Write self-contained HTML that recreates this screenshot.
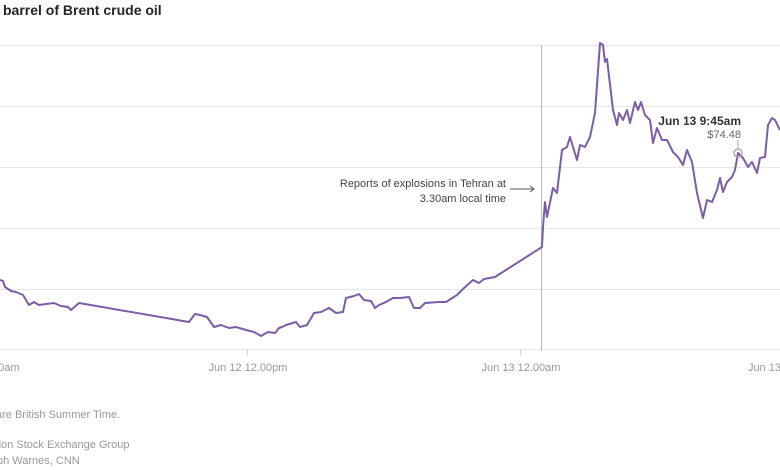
<!DOCTYPE html>
<html><head><meta charset="utf-8"><style>
html,body{margin:0;padding:0;background:#fff;width:780px;height:470px;overflow:hidden}
svg text{font-family:"Liberation Sans",sans-serif}
</style></head><body>
<svg width="780" height="470" viewBox="0 0 780 470">
<text x="3" y="15" font-size="14" font-weight="bold" fill="#262626">barrel of Brent crude oil</text>
<g stroke="#e6e6e6" stroke-width="1">
<line x1="0" y1="45.5" x2="780" y2="45.5"/>
<line x1="0" y1="106.5" x2="780" y2="106.5"/>
<line x1="0" y1="167.5" x2="780" y2="167.5"/>
<line x1="0" y1="228.5" x2="780" y2="228.5"/>
<line x1="0" y1="289.5" x2="780" y2="289.5"/>
<line x1="0" y1="349.5" x2="780" y2="349.5"/>
</g>
<g stroke="#ccc"><line x1="247.5" y1="350" x2="247.5" y2="355"/><line x1="520.5" y1="350" x2="520.5" y2="355"/></g>
<line x1="541.5" y1="45" x2="541.5" y2="351" stroke="#bbb"/>
<g font-size="11" fill="#999">
<text x="-8" y="371">00am</text>
<text x="248" y="371" text-anchor="middle">Jun 12 12.00pm</text>
<text x="521" y="371" text-anchor="middle">Jun 13 12.00am</text>
<text x="748" y="371">Jun 13</text>
<text x="-4" y="418">are British Summer Time.</text>
<text x="-5" y="448">don Stock Exchange Group</text>
<text x="-3" y="464">ph Warnes, CNN</text>
</g>
<g font-size="11" fill="#444" text-anchor="end">
<text x="506" y="187">Reports of explosions in Tehran at</text>
<text x="506" y="202">3.30am local time</text>
</g>
<path d="M510 189 H534 M530 186 L534 189 L530 192" stroke="#555" fill="none"/>
<polyline fill="none" stroke="#7b5ea7" stroke-width="2" stroke-linejoin="round" points="0,280 3,281 5,287 11,291 16,292 23,295 29,305 34,302 39,305 46,304 54,303 61,306 68,307 71,310 79,303 189,322 195,314 200,315 207,317 214,327 221,325 229,328 236,327 246,330 254,332 261,336 268,332 275,333 279,328 282,327 286,325 296,322 300,327 307,325 314,313 321,312 329,308 336,313 343,312 346,298 354,296 359,294 364,300 371,301 375,308 379,305 386,302 393,298 400,298 409,297 414,308 420,308 425,303 439,302 446,302 457,295 464,288 473,280 479,283 484,279 495,277 542,247 543,227 545,202 547,217 553,188 557,193 562,150 567,147 570,137 577,160 580,145 585,147 590,137 595,113 600,43 603,45 605,62 607,59 613,110 617,125 619,113 623,120 627,110 630,123 635,102 638,110 641,102 645,115 650,120 653,143 657,128 662,140 667,140 673,152 678,157 683,165 687,150 692,162 697,193 703,218 707,200 712,202 717,190 720,178 723,192 727,182 732,177 735,170 738,153 743,158 748,167 752,162 757,173 760,158 765,157 768,125 772,118 775,120 780,130"/>
<line x1="738" y1="140" x2="738" y2="149" stroke="#aaa"/>
<circle cx="738" cy="153" r="4" fill="none" stroke="#aaa" stroke-width="1.5"/>
<text x="741" y="125" font-size="12" font-weight="bold" fill="#333" text-anchor="end">Jun 13 9:45am</text>
<text x="741" y="138" font-size="11" fill="#666" text-anchor="end">$74.48</text>
</svg>
</body></html>
